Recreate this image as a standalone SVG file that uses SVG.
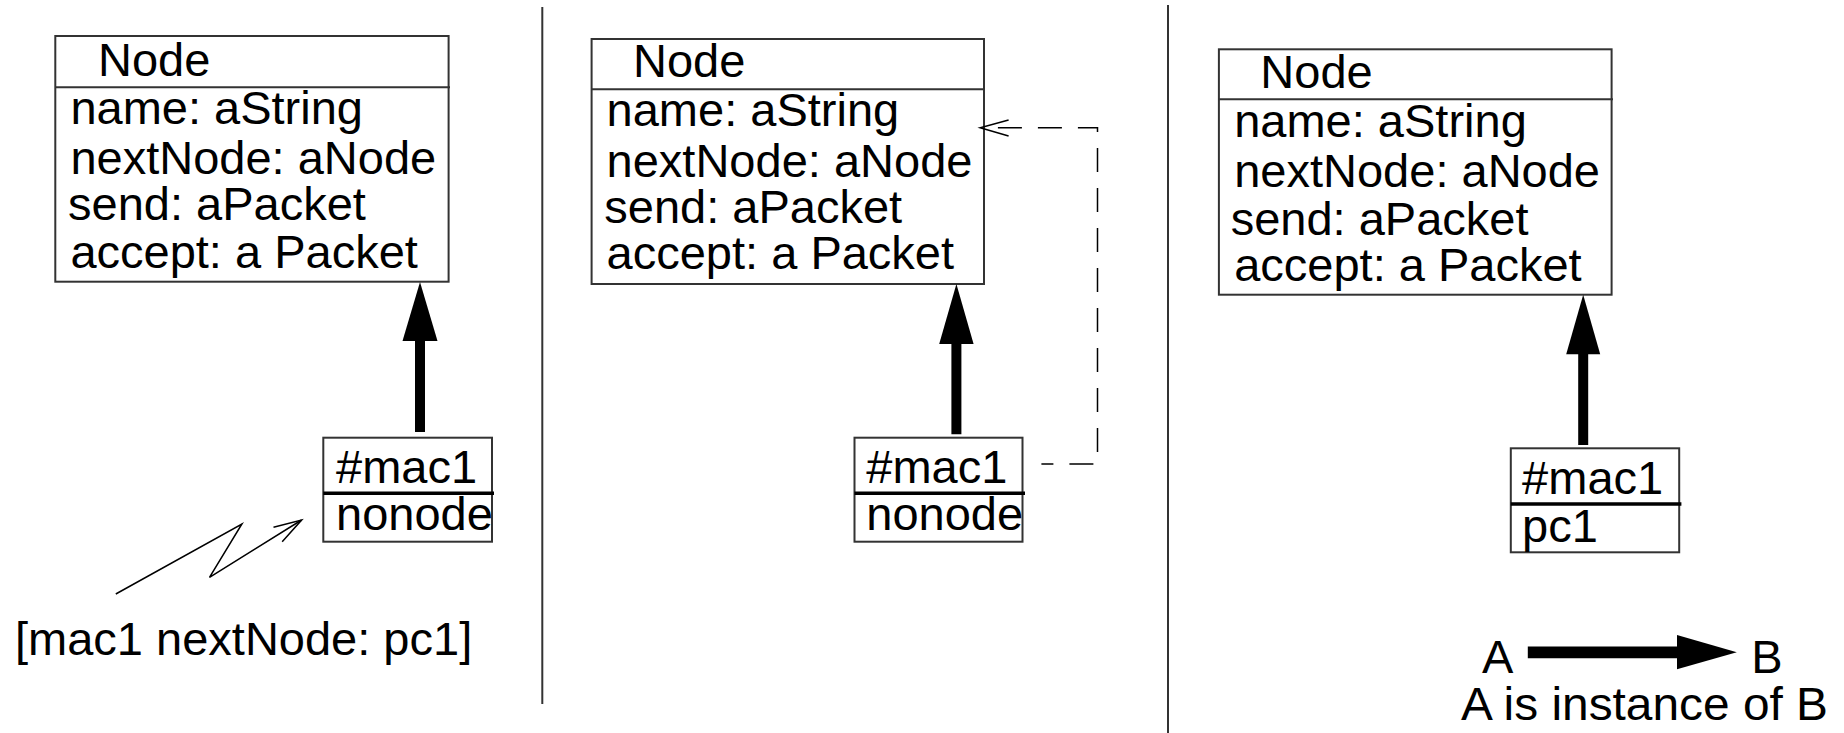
<svg xmlns="http://www.w3.org/2000/svg" width="1844" height="733" viewBox="0 0 1844 733">
<style>
text{font-family:"Liberation Sans",Arial,sans-serif;font-size:47px;fill:#000}
.box{fill:#fff;stroke:#333;stroke-width:2}
.hdr{stroke:#333;stroke-width:2}
.sep{stroke:#000;stroke-width:3.5}
.div{stroke:#333;stroke-width:2}
.inst{stroke:#000;stroke-width:10;fill:none}
.head{fill:#000;stroke:none}
.thin{stroke:#000;stroke-width:1.5;fill:none}
.dash{stroke:#000;stroke-width:1.5;fill:none;stroke-dasharray:24 16;stroke-dashoffset:12}
</style>
<rect width="1844" height="733" fill="#fff"/>
<g id="dividers">
<line class="div" x1="542.3" y1="7" x2="542.3" y2="704"/>
<line class="div" x1="1168" y1="5" x2="1168" y2="733"/>
</g>
<g id="node-class-1">
<rect class="box" x="55.3" y="36" width="393.3" height="245.7"/>
<line class="hdr" x1="55.3" y1="87.3" x2="450" y2="87.3"/>
<text x="98" y="76">Node</text>
<text x="70.4" y="124">name: aString</text>
<text x="70.4" y="174.3">nextNode: aNode</text>
<text x="68" y="220">send: aPacket</text>
<text x="70.4" y="267.7">accept: a Packet</text>
</g>
<g id="mac1-1">
<rect class="box" x="323.3" y="437.7" width="168.7" height="104"/>
<line class="sep" x1="323.3" y1="493.3" x2="494" y2="493.3"/>
<text x="336" y="482.7">#mac1</text>
<text x="336" y="530">nonode</text>
</g>
<g id="message-1">
<text x="15" y="655">[mac1 nextNode: pc1]</text>
</g>
<g id="node-class-2">
<rect class="box" x="591.6" y="39" width="392.4" height="245"/>
<line class="hdr" x1="591.6" y1="89.3" x2="985" y2="89.3"/>
<text x="633" y="77.3">Node</text>
<text x="606.6" y="126">name: aString</text>
<text x="606.6" y="176.5">nextNode: aNode</text>
<text x="604.3" y="222.7">send: aPacket</text>
<text x="606.6" y="269.3">accept: a Packet</text>
</g>
<g id="mac1-2">
<rect class="box" x="854.5" y="437.7" width="168" height="104"/>
<line class="sep" x1="854.5" y1="493.3" x2="1025" y2="493.3"/>
<text x="866.3" y="482.7">#mac1</text>
<text x="866.3" y="530">nonode</text>
</g>
<g id="node-class-3">
<rect class="box" x="1218.9" y="49.3" width="392.7" height="245.4"/>
<line class="hdr" x1="1218.9" y1="99.3" x2="1613" y2="99.3"/>
<text x="1260.3" y="88.3">Node</text>
<text x="1234.2" y="136.7">name: aString</text>
<text x="1234.2" y="186.7">nextNode: aNode</text>
<text x="1230.7" y="234.5">send: aPacket</text>
<text x="1234.2" y="280.7">accept: a Packet</text>
</g>
<g id="mac1-3">
<rect class="box" x="1510.8" y="448.3" width="168.4" height="104"/>
<line class="sep" x1="1510.8" y1="504" x2="1681.4" y2="504"/>
<text x="1522.1" y="494">#mac1</text>
<text x="1522.1" y="541.7">pc1</text>
</g>
<g id="legend">
<text x="1482" y="673.3">A</text>
<text x="1751.2" y="673.3">B</text>
<text x="1461" y="720" textLength="367" lengthAdjust="spacingAndGlyphs">A is instance of B</text>
</g>
<g id="connectors">
<line class="inst" x1="420" y1="340" x2="420" y2="432"/>
<polygon class="head" points="420,282 402.5,341 437.5,341"/>
<line class="inst" x1="956.4" y1="343" x2="956.4" y2="434.3"/>
<polygon class="head" points="956.4,284 939.2,344 973.6,344"/>
<line class="inst" x1="1583.2" y1="353" x2="1583.2" y2="445"/>
<polygon class="head" points="1583.2,294.7 1566.2,354.3 1600.2,354.3"/>
<polyline class="thin" points="115.8,594 241.9,524 209.5,577.3 301.6,520"/>
<polyline class="thin" points="273.5,527.3 301.6,520 282.2,541.7"/>
<path class="dash" d="M1041.4,464 H1097.5 V127.7 H983"/>
<polyline class="thin" points="1008.6,120 980.2,127.7 1008.6,136"/>
<line stroke="#000" stroke-width="11.7" x1="1527.8" y1="652.4" x2="1678" y2="652.4"/>
<polygon class="head" points="1677,635 1736.8,652.2 1677,669.3"/>
</g>
</svg>
